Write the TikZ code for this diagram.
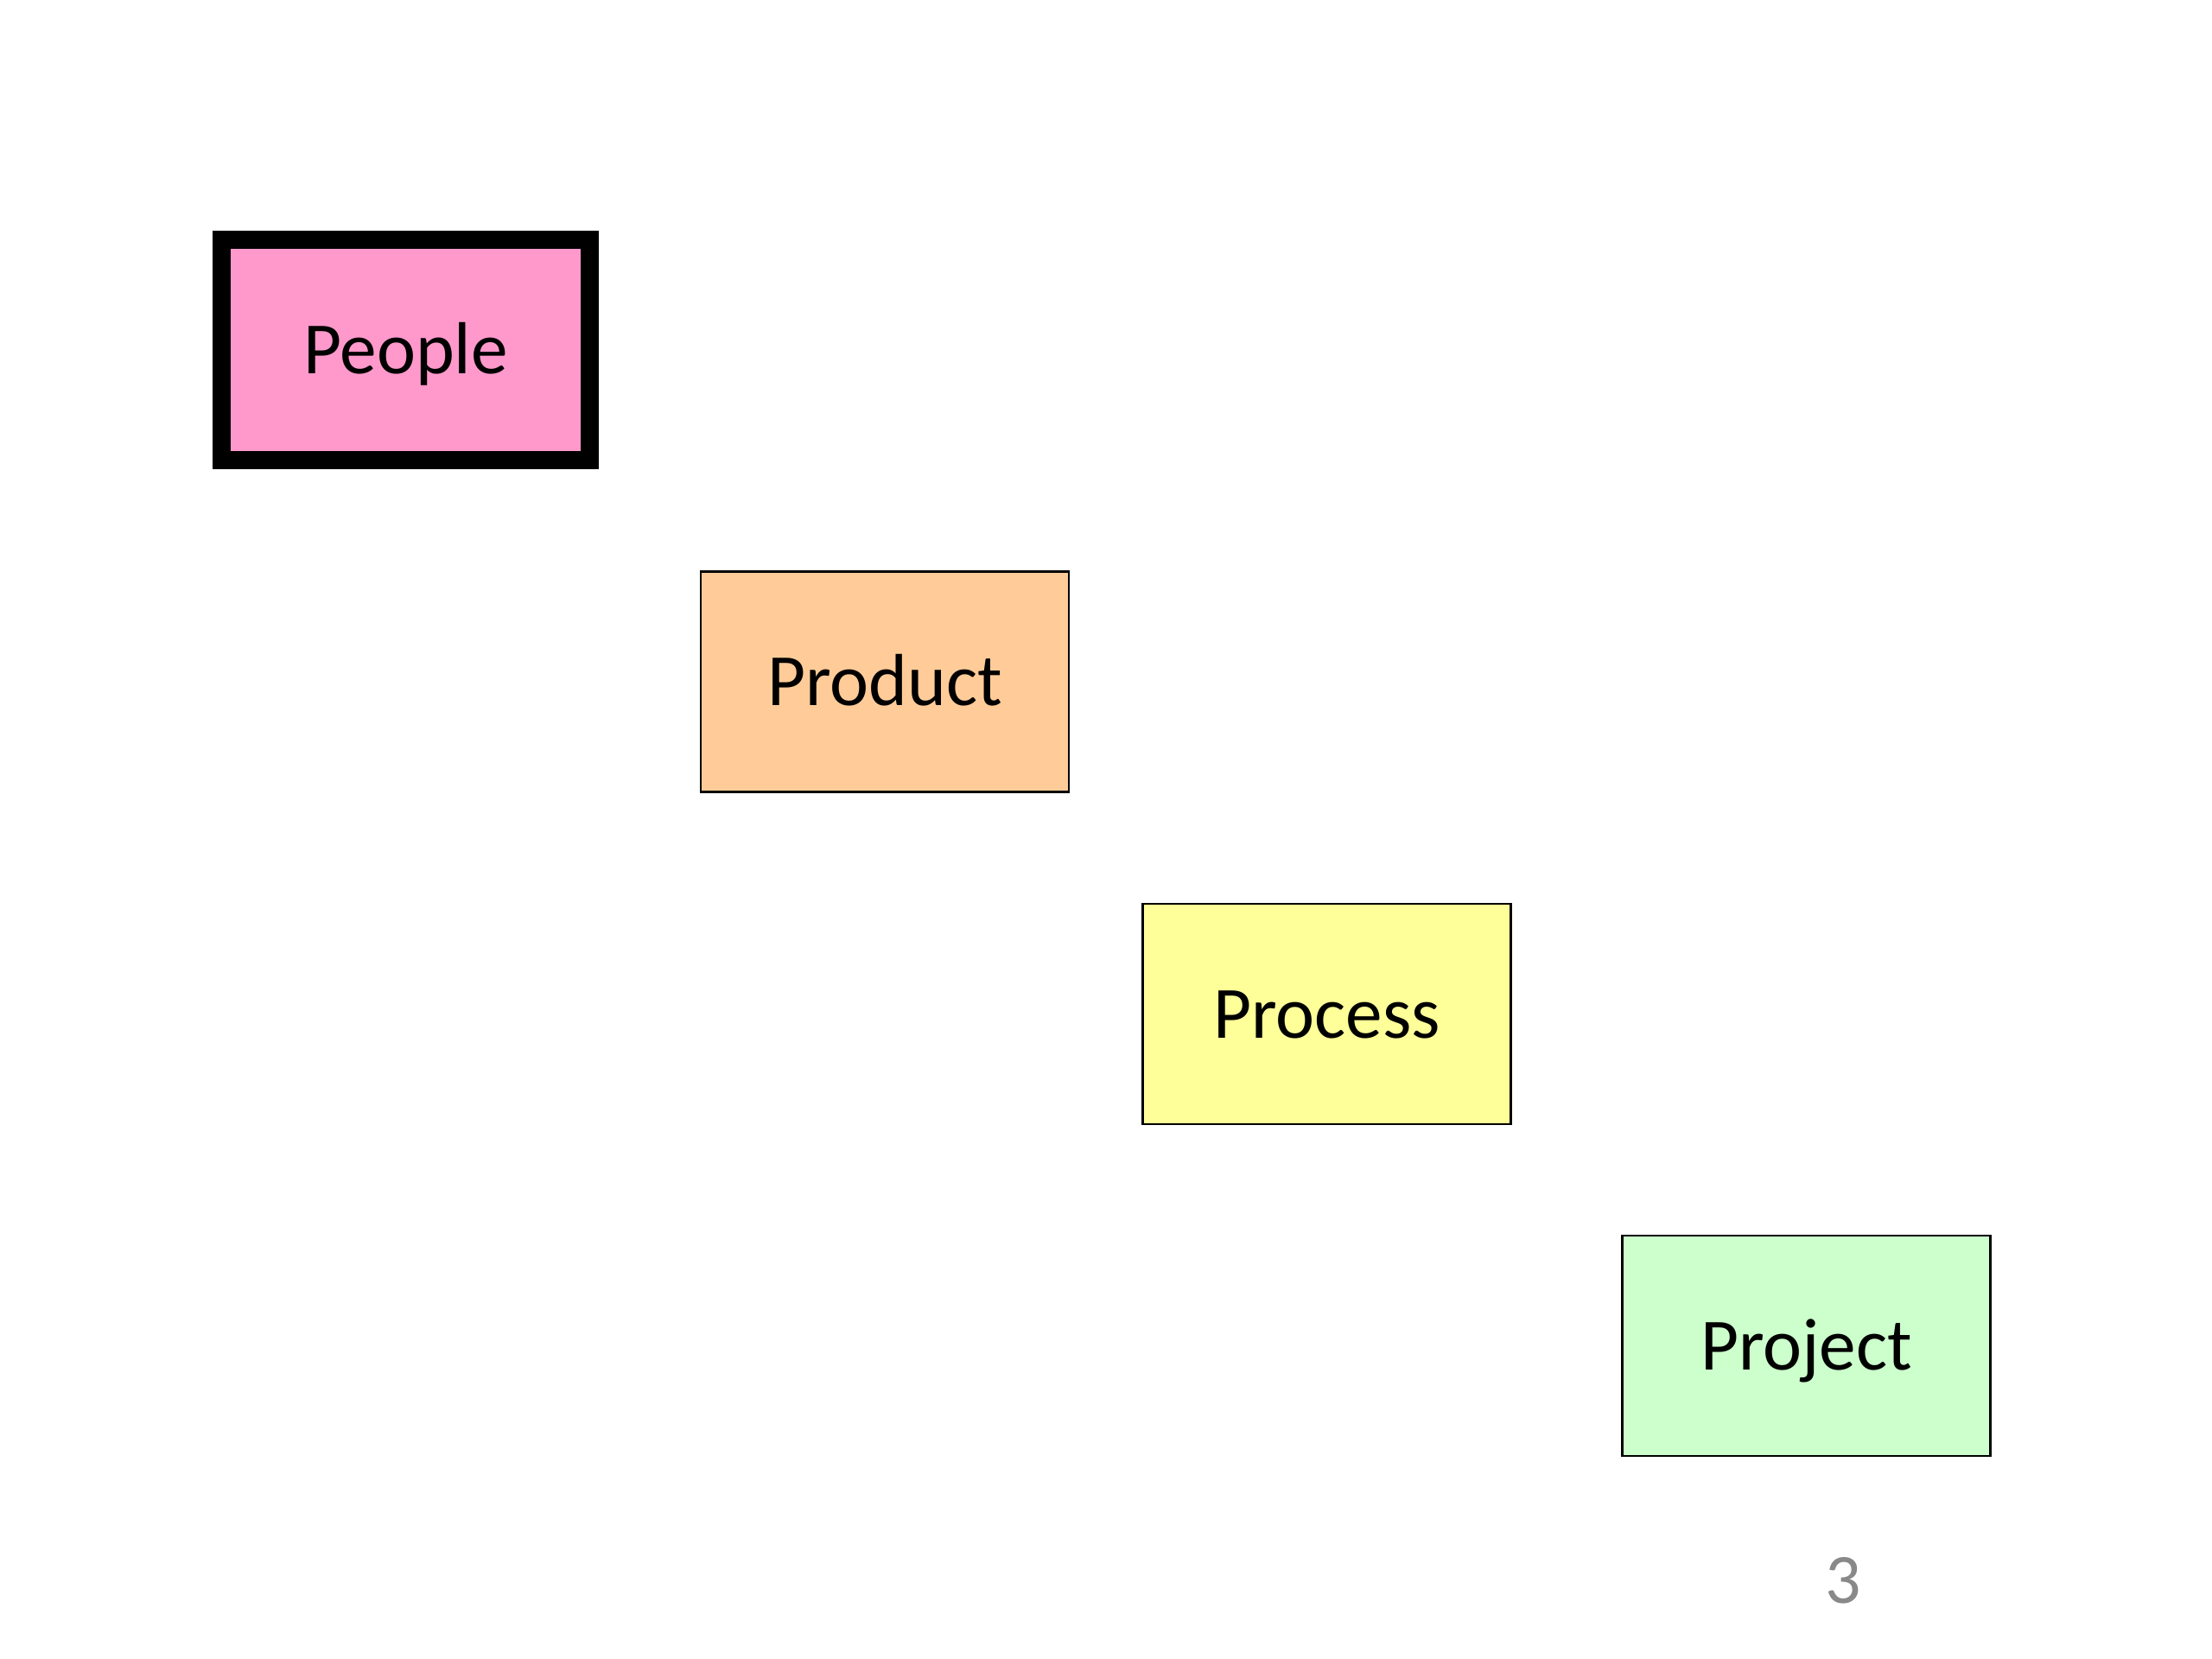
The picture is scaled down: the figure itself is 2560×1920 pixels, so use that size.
\documentclass[tikz,border=0pt]{standalone}
\usepackage{fontspec}
\setmainfont{Carlito}
\definecolor{pinkfill}{HTML}{FF99CC}
\definecolor{peachfill}{HTML}{FFCC99}
\definecolor{yellowfill}{HTML}{FFFF99}
\definecolor{greenfill}{HTML}{CCFFCC}
\definecolor{pagegray}{HTML}{898989}
\begin{document}
\begin{tikzpicture}[x=0.28125pt,y=-0.28125pt,
  card/.style={draw=black, line width=0.6pt, rectangle, inner sep=0pt,
    minimum width=119.8pt, minimum height=71.7pt,
    font=\fontsize{24}{28}\selectfont, text height=15.5pt, text depth=0pt},
  thickcard/.style={card, line width=6pt}]
\useasboundingbox (0,0) rectangle (2560,1920);
\fill[white] (0,0) rectangle (2560,1920);
\node[thickcard, fill=pinkfill] (people) at (469.5,405) {People};
\node[card, fill=peachfill] (product) at (1024,789) {Product};
\node[card, fill=yellowfill] (process) at (1535.5,1173.5) {Process};
\node[card, fill=greenfill] (project) at (2090.5,1557.5) {Project};
\node[anchor=base, inner sep=0pt, text=pagegray, font=\fontsize{23}{27}\selectfont] (pagenum) at (2133,1855) {3};
\end{tikzpicture}
\end{document}
